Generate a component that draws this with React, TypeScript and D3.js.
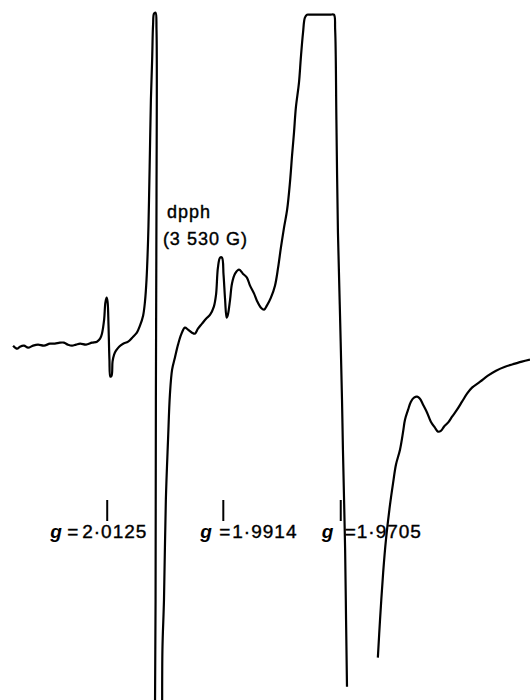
import * as d3 from "d3";

// magnetic field (G) and derivative signal (arb. units)
const fieldA = [
  3484.2, 3485.5, 3486.4, 3487.7, 3489.0, 3490.6, 3492.2, 3494.1, 3496.0, 3497.6,
  3499.2, 3500.5, 3501.8, 3503.1, 3504.4, 3505.7, 3507.6, 3509.5, 3511.1, 3512.1,
  3512.7, 3513.4, 3513.8, 3514.2, 3514.5, 3514.8, 3515.1, 3515.4, 3515.8, 3516.1,
  3516.6, 3517.2, 3518.2, 3519.5, 3521.1, 3522.7, 3523.9, 3524.9, 3525.9, 3526.5,
  3527.0, 3527.5, 3527.8, 3528.1, 3528.4, 3528.8, 3529.1, 3529.4, 3529.9, 3530.2,
  3530.2, 3530.0, 3529.9, 3529.7, 3529.6,
  3531.9, 3532.0, 3532.1, 3532.6, 3533.2, 3533.9, 3534.5, 3535.2, 3536.1, 3537.1, 3538.1,
  3539.3, 3540.3, 3541.6, 3542.5, 3543.5, 3544.8, 3546.1, 3547.4, 3548.6, 3549.3,
  3549.9, 3550.6, 3551.2, 3551.7, 3552.2, 3552.7, 3553.1, 3553.8, 3554.4, 3555.4,
  3556.7, 3557.9, 3559.2, 3560.2, 3561.5, 3562.4, 3563.7, 3564.7, 3565.6, 3566.9,
  3568.2, 3569.2, 3570.1, 3571.1, 3572.1, 3573.0, 3573.7, 3574.3, 3574.9, 3575.9,
  3576.5, 3577.2, 3577.8, 3578.5, 3579.4, 3582.6, 3585.9, 3587.1, 3587.5, 3587.9,
  3588.4, 3589.1, 3589.7, 3590.0, 3590.7, 3591.0, 3591.3,
];
const signalA = [
  0.3, -0.6, 0, 0.3, -0.3, 0.3, 0.6, 0.3, 0.9, 0.9,
  1.2, 1.2, 0.6, 0.3, 0.6, 0.9, 0.6, 1.2, 1.5, 2.4,
  3.9, 8.1, 13.2, 14.7, 13.5, 6.6, -3.9, -9.0, -8.7, -4.5,
  -2.4, -1.2, 0, 0.9, 1.5, 3.0, 4.2, 6.3, 9.3, 13.5,
  20.1, 32.1, 44.1, 59.1, 74.1, 86.1, 96.6, 99.9, 100.2, 95.1,
  44.1, -15.9, -75.9, -111.9, -130,
  -130, -111.9, -90.9, -75.9, -45.9, -27.9, -14.4, -6.9, -3.3, 0.6, 3.6,
  5.7, 5.1, 4.2, 3.9, 5.4, 6.9, 8.4, 9.6, 12.0, 15.6,
  23.7, 26.7, 26.7, 21.6, 14.1, 8.7, 9.6, 14.1, 18.9, 21.9,
  23.1, 21.9, 20.7, 18.3, 15.9, 13.8, 11.7, 11.1, 12.3, 14.7,
  18.3, 23.7, 29.7, 35.7, 41.1, 49.2, 57.6, 64.2, 71.7, 79.2,
  86.7, 94.2, 98.7, 99.6, 99.6, 99.6, 99.6, 99.6, 95.1, 68.1,
  34.2, 8.1, -15.9, -30.9, -60.9, -81.9, -102.0,
];

const fieldB = [
  3601.2, 3601.9, 3602.9, 3603.8, 3605.1, 3606.1, 3607.0, 3608.3, 3609.3, 3609.9,
  3610.9, 3611.8, 3612.8, 3613.8, 3614.7, 3615.7, 3617.0, 3618.2, 3619.5, 3620.5,
  3621.5, 3622.4, 3623.7, 3625.0, 3626.6, 3628.2, 3629.8, 3631.4, 3634.0, 3636.5,
  3639.1, 3642.0, 3645.2, 3647.4, 3650.0,
];
const signalB = [
  -93.3, -81.9, -67.8, -57.9, -47.4, -40.8, -35.4, -30.9, -25.5, -21.9,
  -18.9, -16.5, -15.3, -15.0, -15.6, -17.4, -19.8, -22.5, -24.3, -25.5,
  -25.2, -24.0, -22.8, -21.0, -18.9, -16.5, -14.1, -12.3, -10.5, -8.7,
  -7.2, -6.0, -5.1, -4.5, -3.9,
];

// g-value markers and the dpph reference line
const gValues = [2.0125, 1.9914, 1.9705];
const gText = ["2·0125", "1·9914", "1·9705"];
const dpphField = 3530;
const dpphG = 2.0036;
const dpphLabel = ["dpph", "(3 530 G)"];

const W = 530;
const H = 700;

export default function App() {
  const x = d3.scaleLinear().domain([3480, 3650]).range([0, W]);
  const y = d3.scaleLinear().domain([-106, 104]).range([H, 0]);

  const line = d3
    .line<[number, number]>()
    .x((d) => x(d[0]))
    .y((d) => y(d[1]))
    .curve(d3.curveCatmullRom.alpha(0.5));

  const segA = fieldA.map((f, i) => [f, signalA[i]] as [number, number]);
  const segB = fieldB.map((f, i) => [f, signalB[i]] as [number, number]);

  const hv = dpphField * dpphG; // h*nu/muB
  // label part offsets from the tick: g, "=", number
  const offs = [
    [-57, -40, -25],
    [-23, -4, 9],
    [-19, 4, 16],
  ];

  const font = "'Liberation Sans', Arial, sans-serif";

  return (
    <svg
      width={W}
      height={H}
      style={{ position: "absolute", left: 0, top: 0, background: "#fff" }}
    >
      <path d={line(segA) ?? ""} fill="none" stroke="#000" strokeWidth={2.2} strokeLinejoin="round" />
      <path d={line(segB) ?? ""} fill="none" stroke="#000" strokeWidth={2.2} strokeLinejoin="round" />

      <g fontFamily={font} fontSize={18} fill="#000" stroke="#000" strokeWidth={0.4} letterSpacing={1}>
        <text x={x(dpphField) + 11} y={218}>{dpphLabel[0]}</text>
        <text x={x(dpphField) + 7} y={245}>{dpphLabel[1]}</text>
      </g>

      {gValues.map((g, i) => {
        const tx = x(hv / g);
        return (
          <g key={g} fontFamily={font} fontSize={19} fill="#000">
            <line x1={tx} x2={tx} y1={500} y2={521} stroke="#000" strokeWidth={2} />
            <text x={tx + offs[i][0]} y={538} fontStyle="italic" fontWeight="bold">g</text>
            <text x={tx + offs[i][1]} y={538} stroke="#000" strokeWidth={0.4}>=</text>
            <text x={tx + offs[i][2]} y={538} stroke="#000" strokeWidth={0.4} letterSpacing={1}>
              {gText[i]}
            </text>
          </g>
        );
      })}
    </svg>
  );
}
